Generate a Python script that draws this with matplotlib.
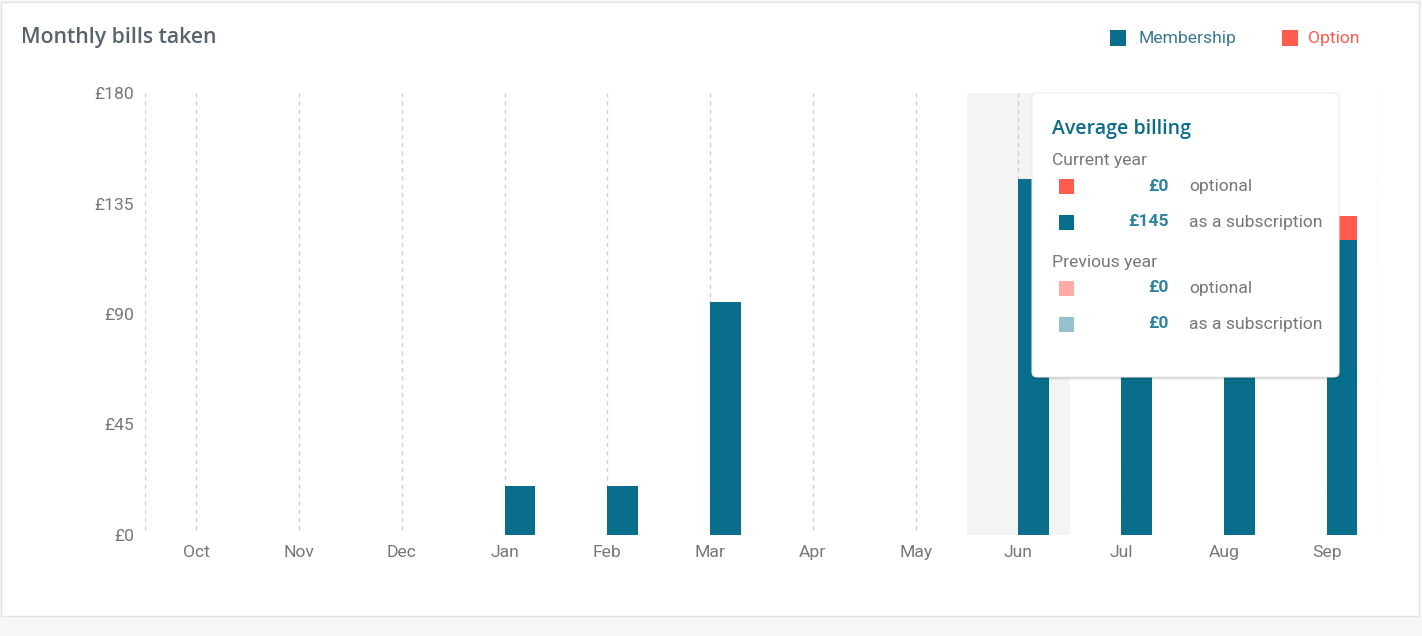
import matplotlib.pyplot as plt
from matplotlib.patches import Rectangle, FancyBboxPatch
from matplotlib.transforms import IdentityTransform

W, H = 1422, 636

months = ["Oct", "Nov", "Dec", "Jan", "Feb", "Mar", "Apr", "May", "Jun", "Jul", "Aug", "Sep"]
membership = [0, 0, 0, 20, 20, 95, 0, 0, 145, 130, 125, 120]
option = [0, 0, 0, 0, 0, 0, 0, 0, 0, 0, 0, 10]
yticks = [0, 45, 90, 135, 180]
highlight = "Jun"

tooltip_title = "Average billing"
tooltip_rows = [
    ("Current year", [("#ff5b4f", "£0", "optional"), ("#086e8c", "£145", "as a subscription")]),
    ("Previous year", [("#ffaca5", "£0", "optional"), ("#97c0cf", "£0", "as a subscription")]),
]

TEAL = "#086e8c"
RED = "#ff5b4f"
GREY_TXT = "#777777"
FONT = "Roboto"
WEIGHT = "normal"
FS = 12.6


def fx(x):
    return x / W


def fy(y):
    return 1 - y / H


fig = plt.figure(figsize=(W / 100, H / 100), dpi=100)
fig.patch.set_facecolor("#f7f7f7")

# white card
card = Rectangle((0.5, H - 616), 1418, 614, transform=IdentityTransform(),
                 facecolor="white", edgecolor="#e2e2e2", lw=1, zorder=-1)
fig.patches.append(card)

ax = fig.add_axes([fx(145), fy(535), (1378 - 145) / W, (535 - 93) / H])
ax.set_facecolor("none")
ax.set_xlim(-0.5, len(months) - 0.5)
ax.set_ylim(0, 180)
for s in ax.spines.values():
    s.set_visible(False)

hi = months.index(highlight)
ax.axvspan(hi - 0.5, hi + 0.5, color="#f4f4f4", zorder=0, lw=0)

xs = list(range(len(months)))
for x in [-0.5] + xs + [len(months) - 0.5]:
    ax.plot([x, x], [2, 180], ls=(0, (3, 3)), color="#cfcfcf", lw=1, zorder=1)

ax.bar(xs, membership, width=0.3, align="edge", color=TEAL, zorder=2)
ax.bar(xs, option, width=0.3, align="edge", bottom=membership, color=RED, zorder=2)

ax.set_xticks(xs)
ax.set_xticklabels(months)
ax.set_yticks(yticks)
ax.set_yticklabels(["£%d" % v for v in yticks])
ax.tick_params(length=0, labelsize=FS, labelcolor=GREY_TXT)
ax.tick_params(axis="y", pad=8)
ax.tick_params(axis="x", pad=7.5)
for lab in ax.get_xticklabels() + ax.get_yticklabels():
    lab.set_family(FONT)
    lab.set_fontweight(WEIGHT)

# title and legend
fig.text(fx(21), fy(38), "Monthly bills taken", fontsize=15.3, fontweight="semibold",
         family="Open Sans", color="#58636e", va="center", ha="left")
fig.patches.append(Rectangle((1110, H - 46), 16, 16, transform=IdentityTransform(),
                             facecolor=TEAL, lw=0))
fig.text(fx(1138), fy(39), "Membership", fontsize=FS, family=FONT, fontweight=WEIGHT,
         color="#3a7892", va="center")
fig.patches.append(Rectangle((1282, H - 46), 16, 16, transform=IdentityTransform(),
                             facecolor=RED, lw=0))
fig.text(fx(1308), fy(39), "Option", fontsize=FS, family=FONT, fontweight=WEIGHT,
         color=RED, va="center")

# tooltip
for off, a in [(3, 0.05), (2, 0.07), (1, 0.1)]:
    fig.patches.append(FancyBboxPatch((1032, H - 377 - off), 307, 284 + off,
                                      boxstyle="round,pad=0,rounding_size=5",
                                      transform=IdentityTransform(), facecolor="black",
                                      alpha=a, lw=0, zorder=4))
fig.patches.append(FancyBboxPatch((1032, H - 377), 307, 284,
                                  boxstyle="round,pad=0,rounding_size=5",
                                  transform=IdentityTransform(), facecolor="white",
                                  edgecolor="#ececec", lw=0.8, zorder=5))
fig.text(fx(1052), fy(129), tooltip_title, fontsize=14, fontweight="semibold",
         family="Open Sans", color="#0b6b88", va="center", zorder=6)

y = 161
for header, rows in tooltip_rows:
    fig.text(fx(1052), fy(y), header, fontsize=FS, family=FONT, fontweight=WEIGHT,
             color=GREY_TXT, va="center", zorder=6)
    y += 25
    for col, val, lab in rows:
        fig.patches.append(Rectangle((1059, H - y - 8), 15, 15, transform=IdentityTransform(),
                                     facecolor=col, lw=0, zorder=6))
        fig.text(fx(1169), fy(y), val, fontsize=FS, family=FONT, fontweight="bold",
                 color="#2f849e", va="center", ha="right", zorder=6)
        fig.text(fx(1189), fy(y), lab, fontsize=FS, family=FONT, fontweight=WEIGHT,
                 color=GREY_TXT, va="center", zorder=6)
        y += 36
    y += 5

fig.savefig("out.png", dpi=100, facecolor=fig.get_facecolor())
